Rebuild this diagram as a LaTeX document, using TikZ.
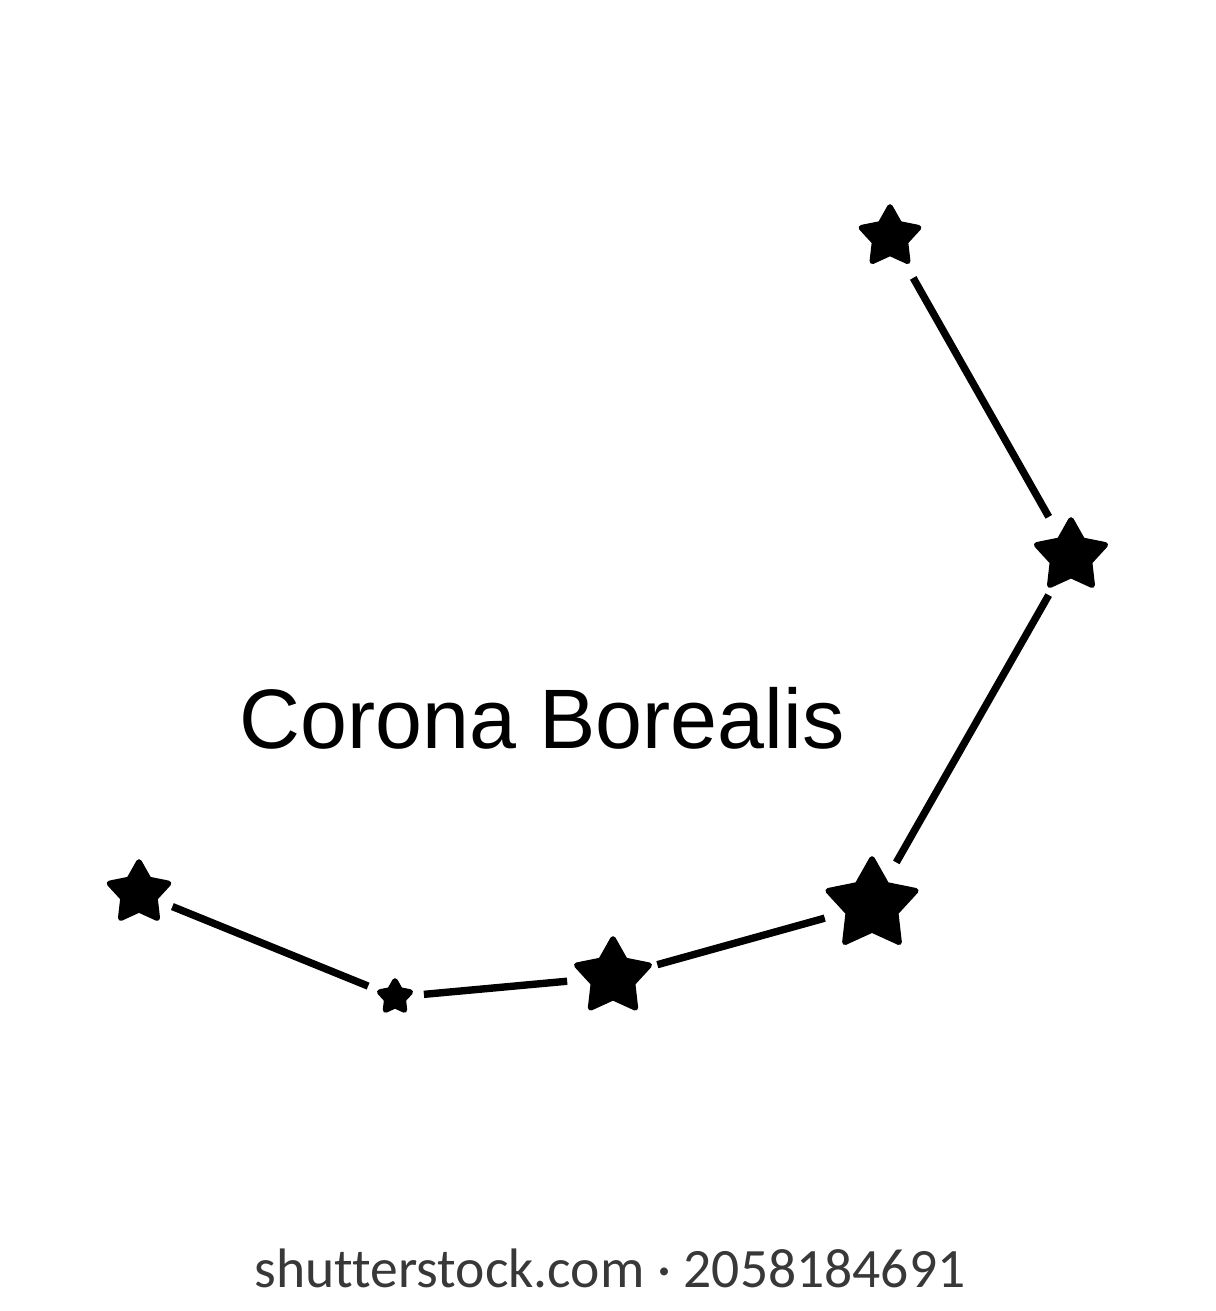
\documentclass[tikz,border=0pt]{standalone}
\usepackage{fontspec}
\usetikzlibrary{shapes.geometric}
\newfontfamily\titlefont{Liberation Sans}
\newfontfamily\markfont[Ligatures=NoCommon]{Carlito}

\begin{document}
\begin{tikzpicture}[x=0.01cm, y=-0.01cm,
	halo/.style={circle, inner sep=0pt, outer sep=0pt, minimum size=#1*0.02cm},
	cstar/.style={shape=star, star points=5, star point ratio=1.85, fill=black, draw=black, line width=1.6pt, line join=round, inner sep=0pt, outer sep=0pt, minimum size=#1*0.02cm},
	link/.style={black, line width=2.1pt}]
	\useasboundingbox (0,0) rectangle (1216,1311);
	% stars of the crown, top to bottom left
	\node[halo=47, label={[cstar=30]center:}] (s1) at (890,237) {};
	\node[halo=45, label={[cstar=36]center:}] (s2) at (1071,556) {};
	\node[halo=49, label={[cstar=46]center:}] (s3) at (872,905) {};
	\node[halo=46, label={[cstar=38]center:}] (s4) at (613,977) {};
	\node[halo=29, label={[cstar=16]center:}] (s5) at (395,997) {};
	\node[halo=36, label={[cstar=31]center:}] (s6) at (139,893) {};
	\draw[link] (s1) -- (s2);
	\draw[link] (s2) -- (s3);
	\draw[link] (s3) -- (s4);
	\draw[link] (s4) -- (s5);
	\draw[link] (s5) -- (s6);
	\node[anchor=base, font=\titlefont\fontsize{24}{28}\selectfont] (title) at (542,748) {Corona Borealis};
	\node[anchor=base, text=black!78, font=\markfont\fontsize{15.8}{18}\selectfont] (mark) at (610,1287) {shutterstock.com · 2058184691};
\end{tikzpicture}
\end{document}
